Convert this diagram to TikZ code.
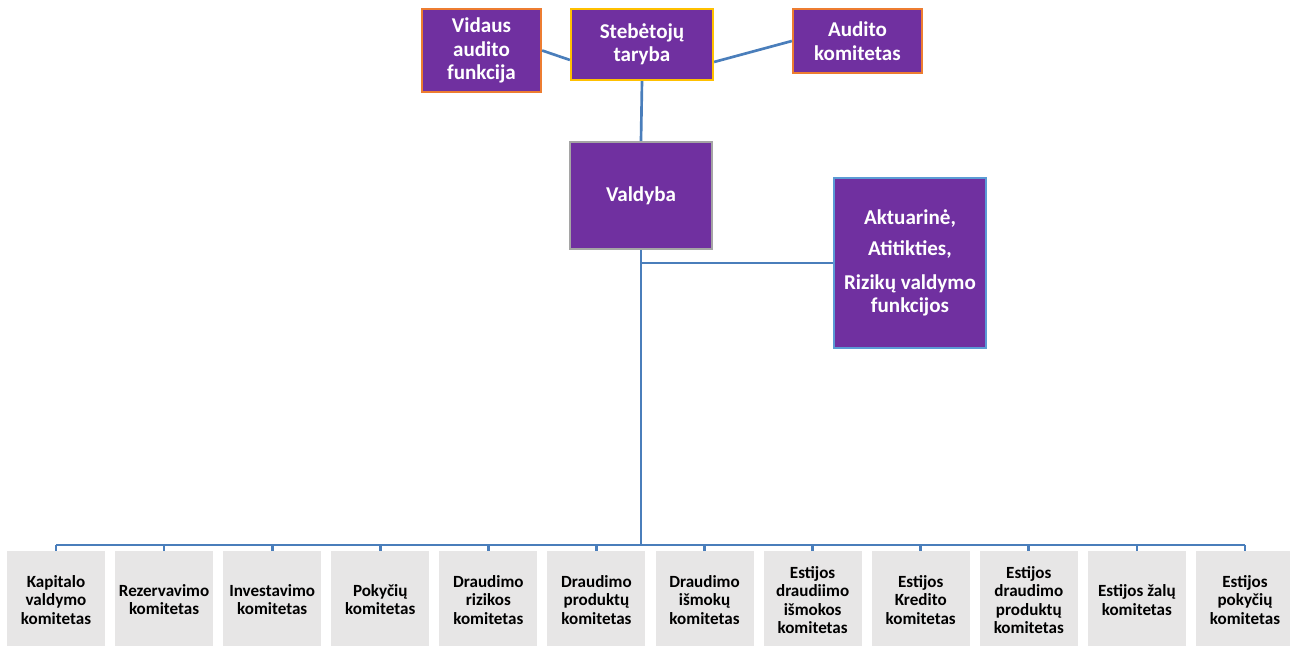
\documentclass[tikz,border=0pt]{standalone}
\usepackage{fontspec}
\setmainfont{Carlito}
\definecolor{purp}{HTML}{7030A0}
\definecolor{orng}{HTML}{ED7D31}
\definecolor{gold}{HTML}{FFC000}
\definecolor{gborder}{HTML}{A5A5A5}
\definecolor{bborder}{HTML}{5B9BD5}
\definecolor{conn}{HTML}{4A7EBB}
\definecolor{gfill}{HTML}{E7E6E6}
\begin{document}
\begin{tikzpicture}[x=0.75pt,y=-0.75pt,
  topbox/.style={rectangle, fill=purp, line width=1.7pt, text=white, align=center, inner sep=0pt,
    font=\fontsize{15.8}{17.6}\selectfont\bfseries},
  combox/.style={rectangle, fill=gfill, text=black, align=center, inner sep=0pt,
    minimum width=73.5pt, minimum height=73.5pt, font=\fontsize{12.8}{13.6}\selectfont\bfseries},
  link/.style={draw=conn, line width=2pt}]
\useasboundingbox (0,0) rectangle (1290,646);
\node[topbox, draw=orng, minimum width=89.25pt, minimum height=62.25pt] (vid) at (481.5,50.5) {Vidaus\\audito\\funkcija};
\node[topbox, draw=gold, minimum width=106.5pt, minimum height=53.25pt] (steb) at (642,44.5) {Stebėtojų\\taryba};
\node[topbox, draw=orng, minimum width=96.75pt, minimum height=48pt] (aud) at (857.5,41) {Audito\\komitetas};
\node[topbox, draw=gborder, minimum width=106.5pt, minimum height=80.25pt] (val) at (641,195.5) {Valdyba};
\node[topbox, draw=bborder, minimum width=114pt, minimum height=127.5pt] (fun) at (910,263) {Aktuarinė,\\[5.5pt]Atitikties,\\[7.5pt]Rizikų valdymo\\funkcijos};
\foreach \i/\t in {1/{Kapitalo\\valdymo\\komitetas},2/{Rezervavimo\\komitetas},3/{Investavimo\\komitetas},4/{Pokyčių\\komitetas},5/{Draudimo\\rizikos\\komitetas},6/{Draudimo\\produktų\\komitetas},7/{Draudimo\\išmokų\\komitetas},8/{Estijos\\draudiimo\\išmokos\\komitetas},9/{Estijos\\Kredito\\komitetas},10/{Estijos\\draudimo\\produktų\\komitetas},11/{Estijos žalų\\komitetas},12/{Estijos\\pokyčių\\komitetas}}{
  \node[combox] (c\i) at ({56+108.09*(\i-1)},600) {\t};
}
\coordinate (bus) at (641,545);
\draw[link] (vid.east) -- ([yshift=-11.6pt]steb.west);
\draw[link] ([yshift=-13.1pt]steb.east) -- (aud.west);
\draw[link] (steb.south) -- (val.north);
\draw[link] (val.south) -- (bus);
\draw[link] (val.south |- fun.west) -- (fun.west);
\draw[link] (c1.north |- bus) -- (c12.north |- bus);
\foreach \i in {1,...,12}{
  \draw[link] (c\i.north |- bus) -- (c\i.north);
}
\end{tikzpicture}
\end{document}
